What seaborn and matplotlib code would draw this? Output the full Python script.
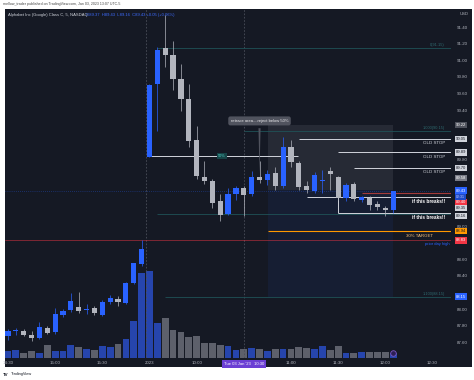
import matplotlib
matplotlib.use("Agg")
import matplotlib.pyplot as plt
import matplotlib.transforms as mtrans
import numpy as np
import pandas as pd
import seaborn as sns

# GOOG 5 min bars: 14:30-15:55 of the last 2022 session, then Jan 03 2023 from 9:30
opens = [87.67, 87.73, 87.74, 87.69, 87.65, 87.77, 87.72, 87.93, 87.99, 88.03,
         87.99, 88.01, 87.93, 88.08, 88.12, 88.07, 88.32, 88.54,
         89.84, 90.71, 91.15, 91.07, 90.78, 90.54, 90.04, 89.59, 89.55, 89.30,
         89.15, 89.39, 89.46, 89.39, 89.59, 89.56, 89.64, 89.48, 89.95, 89.76,
         89.48, 89.42, 89.55, 89.66, 89.59, 89.34, 89.51, 89.32, 89.34, 89.27,
         89.22, 89.19]
highs = [87.76, 87.77, 87.76, 87.74, 87.84, 87.80, 88.01, 88.00, 88.19, 88.21,
         88.06, 88.04, 88.11, 88.17, 88.16, 88.33, 88.56, 88.83,
         90.72, 91.16, 91.55, 91.24, 90.96, 90.72, 90.21, 89.79, 89.57, 89.39,
         89.46, 89.48, 89.49, 89.66, 89.79, 89.68, 89.72, 90.08, 90.04, 89.79,
         89.55, 89.65, 89.68, 89.71, 89.61, 89.52, 89.53, 89.37, 89.36, 89.30,
         89.24, 89.43]
lows = [87.63, 87.69, 87.68, 87.62, 87.64, 87.70, 87.70, 87.91, 87.97, 87.95,
        87.94, 87.93, 87.92, 88.06, 88.04, 88.06, 88.30, 88.52,
        89.83, 90.15, 90.92, 90.64, 90.39, 89.95, 89.57, 89.51, 89.22, 89.06,
        89.14, 89.31, 89.12, 89.37, 89.52, 89.50, 89.44, 89.46, 89.72, 89.44,
        89.40, 89.40, 89.40, 89.44, 89.32, 89.30, 89.30, 89.29, 89.19, 89.20,
        89.12, 89.16]
closes = [87.73, 87.74, 87.69, 87.65, 87.78, 87.71, 87.94, 87.98, 88.10, 87.98,
          88.00, 87.95, 88.09, 88.13, 88.08, 88.32, 88.55, 88.73,
          90.70, 91.13, 91.07, 90.78, 90.53, 90.03, 89.61, 89.55, 89.28, 89.13,
          89.39, 89.46, 89.38, 89.59, 89.56, 89.63, 89.48, 89.95, 89.78, 89.47,
          89.44, 89.62, 89.56, 89.63, 89.34, 89.50, 89.33, 89.35, 89.25, 89.23,
          89.19, 89.43]
# volume, thousands of shares
volumes = [35, 40, 25, 35, 25, 65, 35, 35, 65, 55, 45, 40, 60, 55, 70, 95, 185, 425,
           435, 175, 200, 140, 130, 105, 110, 75, 75, 65, 60, 40,
           45, 50, 45, 35, 45, 45, 45, 55, 50, 45, 60, 40, 60, 25, 25, 30, 30, 30,
           30, 25]

time_ticks = [0, 6, 12, 18, 24, 36, 42, 48, 54]
time_labels = ["14:30", "15:00", "15:30", "2023", "10:00", "11:00", "11:30", "12:00", "12:30"]
price_ticks = [87.6, 87.8, 88.0, 88.4, 88.6, 89.0, 89.8, 90.4, 90.6, 90.8, 91.0, 91.2, 91.4]

session_break = 17.6
crosshair_bar = 30
crosshair_label = "Tue 03 Jan '23   10:30"

# drawings on the chart
half_level = 89.85
old_stops = [90.05, 89.89, 89.70]
old_stop_from = [37, 42, 44]
break_levels = [89.35, 89.16]
break_from = [38, 42]
red_break = 89.40
target = 88.94
prior_high = 88.83
fib_levels = [91.15, 90.15, 89.15, 88.15]
fib_from = [19, 30, 19, 20]
fib_text = ["0(91.15)", "1.000(90.15)", "", "1.100(88.15)"]
zone_top, zone_mid, zone_bot = 90.22, 89.44, 88.15
zone_x = [33.1, 49]

# boxed labels on the price scale: value, face, text colour, shift in px
price_boxes = [(90.22, "#50535e", "#ffffff", 0),
               (90.05, "#d1d4dc", "#131722", 0),
               (89.89, "#d1d4dc", "#131722", 0),
               (89.70, "#d1d4dc", "#131722", 0),
               (89.58, "#787b86", "#ffffff", 0),
               (89.43, "#2962ff", "#ffffff", 0),
               (89.40, "#f23645", "#ffffff", -9),
               (89.35, "#d1d4dc", "#131722", -11),
               (89.16, "#d1d4dc", "#131722", -3),
               (88.94, "#ff9800", "#131722", 0),
               (88.83, "#f23645", "#ffffff", 0),
               (88.15, "#2962ff", "#ffffff", 0)]

BG = "#151924"
UP = "#2962ff"
DOWN = "#b2b5be"
VOL_UP = "#2645ad"
VOL_DOWN = "#5d606b"
TXT = "#b2b5be"

sns.set_theme(style="dark")
plt.rcParams["font.family"] = ["Liberation Sans", "DejaVu Sans"]

fig = plt.figure(figsize=(4.74, 3.80), dpi=100)
fig.patch.set_facecolor("white")
W, H = 474.0, 380.0
fig.patches.append(plt.Rectangle((5 / W, 13 / H), 467 / W, 358 / H, transform=fig.transFigure,
                                 facecolor=BG, edgecolor="none", zorder=0))

ax = fig.add_axes([5 / W, 22 / H, 446 / W, 349 / H])
axv = ax.twinx()
ax.yaxis.tick_right()
ax.set_zorder(2)
axv.set_zorder(1)
ax.patch.set_visible(False)
axv.patch.set_visible(False)

idx = np.arange(len(opens))
o = np.array(opens)
c = np.array(closes)
up = c >= o

# volume in the bottom of the pane
df = pd.DataFrame({"bar": idx, "volume": volumes, "dir": np.where(up, "up", "down")})
sns.barplot(data=df, x="bar", y="volume", hue="dir", palette={"up": VOL_UP, "down": VOL_DOWN},
            native_scale=True, width=0.86, dodge=False, saturation=1, legend=False, ax=axv)
for p in axv.patches:
    k = int(round(p.get_x() + p.get_width() / 2))
    p.set_facecolor(VOL_UP if up[k] else VOL_DOWN)
    p.set_edgecolor("none")
    p.set_linewidth(0)
axv.set_ylim(0, max(volumes) * 349 / 87)
axv.set_yticks([])
axv.set_ylabel("")
axv.grid(False)
for s in axv.spines.values():
    s.set_visible(False)

# candles
colors = np.where(up, UP, DOWN)
ax.vlines(idx, lows, highs, colors=colors, linewidth=0.5, zorder=4)
body = np.maximum(np.abs(c - o), 0.012)
ax.bar(idx, body, bottom=np.minimum(o, c), width=0.66, color=colors, linewidth=0, zorder=5)

xmin, xmax = -0.38, 56.36
ax.set_xlim(xmin, xmax)
ax.set_ylim(87.41, 91.62)
ax.grid(False)
for s in ax.spines.values():
    s.set_visible(False)

# session break / crosshair
ax.axvline(session_break, color="#4a4e5a", lw=0.6, ls=(0, (2, 2)), zorder=1)
ax.axvline(crosshair_bar, color="#4a4e5a", lw=0.6, ls=(0, (2, 2)), zorder=1)

# zone boxes
ax.fill_between(zone_x, zone_mid, zone_top, color="#787b86", alpha=0.18, lw=0, zorder=1)
ax.fill_between(zone_x, zone_bot, zone_mid, color="#2962ff", alpha=0.07, lw=0, zorder=1)

# fib lines
for lv, x0, t in zip(fib_levels, fib_from, fib_text):
    ax.hlines(lv, x0, xmax, color="#1f5257", lw=0.6, zorder=2)
    if t:
        ax.text(55.6, lv + 0.01, t, color="#2e6b70", fontsize=2.8, ha="right", va="bottom", zorder=3)

ax.axhline(prior_high, color="#f23645", lw=0.6, alpha=0.55, zorder=2)
ax.axhline(closes[-1], color=UP, lw=0.5, ls=(0, (1, 2)), alpha=0.6, zorder=2)
ax.hlines(target, zone_x[0], xmax, color="#ff9800", lw=0.8, zorder=3)
ax.hlines(half_level, 18, 36.9, color="#d1d4dc", lw=0.7, zorder=3)
ax.text(27.2, half_level, "50%", fontsize=2.8, color="#4dd0c4", ha="center", va="center", zorder=6,
        bbox=dict(boxstyle="square,pad=0.3", fc="#174447", ec="none"))

for lv, x0 in zip(old_stops, old_stop_from):
    ax.hlines(lv, x0, xmax, color="#d1d4dc", lw=0.7, zorder=3)
    ax.annotate("OLD STOP", (55.6, lv), xytext=(0, -3), textcoords="offset points",
                fontsize=3.2, color="#d1d4dc", ha="right", va="center", zorder=6)

ax.hlines(red_break, 45, xmax, color="#a33a3a", lw=0.8, zorder=3)
for lv, x0 in zip(break_levels, break_from):
    ax.hlines(lv, x0, xmax, color="#d1d4dc", lw=0.7, zorder=3)
    ax.annotate("if this breaks!!", (55.6, lv), xytext=(0, -3.2), textcoords="offset points",
                fontsize=3.4, color="#ffffff", weight="bold", ha="right", va="center", zorder=6)
ax.vlines(break_from[1], break_levels[1], break_levels[0], color="#d1d4dc", lw=0.7, zorder=3)

ax.annotate("30% TARGET", (52.4, target), xytext=(0, -3.2), textcoords="offset points",
            fontsize=3.2, color="#f7c27e", ha="center", va="center", zorder=6)
ax.annotate("prior day high", (54.6, prior_high), xytext=(0, -3), textcoords="offset points",
            fontsize=3.0, color="#2962ff", ha="center", va="center", zorder=6)

ax.annotate("retrace area....reject below 50%", xy=(32, 89.60), xytext=(32, 90.27),
            fontsize=3.0, color="#e9e9ec", ha="center", va="center", zorder=7,
            bbox=dict(boxstyle="round,pad=0.6,rounding_size=0.5", fc="#50535e", ec="none"),
            arrowprops=dict(arrowstyle="wedge,tail_width=0.5,shrink_factor=0.5", fc="#50535e", ec="none"))

# price scale
ax.set_yticks(price_ticks)
ax.set_yticklabels([f"{p:.2f}" for p in price_ticks])
ax.tick_params(axis="y", length=0, pad=4, labelsize=3.2, labelcolor=TXT)
trans = mtrans.blended_transform_factory(ax.transAxes, ax.transData)
for val, fc, tc, shift in price_boxes:
    ax.annotate(f"{val:.2f}", (1.0, val), xycoords=trans, xytext=(3.5, shift * 0.72),
                textcoords="offset points", fontsize=3.0, color=tc, ha="left", va="center",
                annotation_clip=False, zorder=8,
                bbox=dict(boxstyle="square,pad=0.3", fc=fc, ec="none"))
ax.annotate("02:31", (1.0, closes[-1]), xycoords=trans, xytext=(3.5, -4.6), textcoords="offset points",
            fontsize=2.5, color="#cfd8ff", ha="left", va="center", annotation_clip=False, zorder=8,
            bbox=dict(boxstyle="square,pad=0.2", fc="#1e49c8", ec="none"))
ax.text(1.02, 0.985, "USD", transform=ax.transAxes, fontsize=3.0, color=TXT, ha="left", va="center")

# time scale
ax.set_xticks(time_ticks)
ax.set_xticklabels(time_labels)
ax.tick_params(axis="x", length=0, pad=2.5, labelsize=3.2, labelcolor=TXT)
ax.annotate(crosshair_label, (crosshair_bar, 0), xycoords=("data", "axes fraction"),
            xytext=(0, -4.3), textcoords="offset points", fontsize=3.0, color="white",
            ha="center", va="center", annotation_clip=False, zorder=9,
            bbox=dict(boxstyle="square,pad=0.5", fc="#6b3fd4", ec="none"))
ax.plot([idx[-1]], [0.015], marker="o", ms=4, mfc="#2b1f55", mec="#7e57c2", mew=0.6,
        transform=mtrans.blended_transform_factory(ax.transData, ax.transAxes), zorder=9, clip_on=False)

# header
fig.text(8 / W, 1 - 15 / H, "Alphabet Inc (Google) Class C, 5, NASDAQ", fontsize=3.0, color="#d1d4dc",
         va="center")
fig.text(86 / W, 1 - 15 / H, "O89.37  H89.43  L89.16  C89.43 +0.05 (+0.06%)", fontsize=3.0,
         color="#3d6cff", va="center")
fig.text(3 / W, 1 - 4.5 / H, "mellow_trader published on TradingView.com, Jan 03, 2023 13:07 UTC-5",
         fontsize=2.6, color="#444444", va="center")
fig.text(3 / W, 5.5 / H, "TV", fontsize=3.2, color="#131722", weight="bold", va="center")
fig.text(11 / W, 5.5 / H, "TradingView", fontsize=2.8, color="#131722", va="center")

fig.savefig("out.png", dpi=100, facecolor=fig.get_facecolor())
